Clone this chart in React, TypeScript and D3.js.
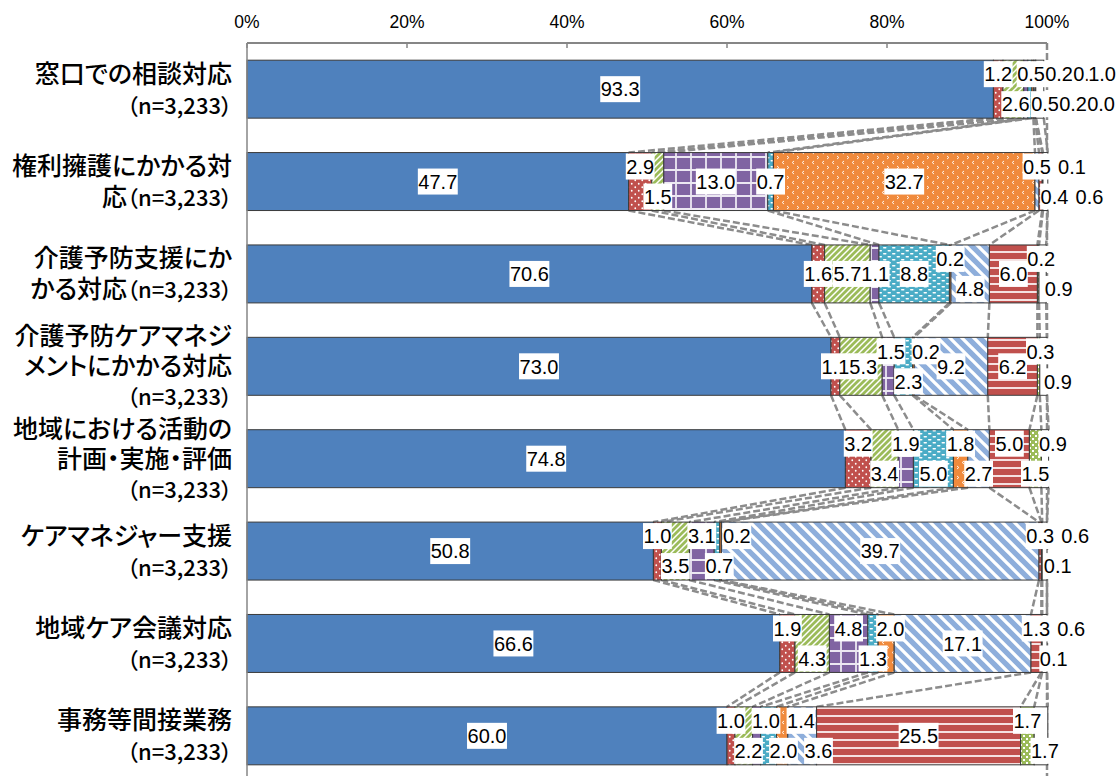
import React from 'react';
import * as d3 from 'd3';

// ---------- data ----------
const categoryLines: string[][] = [
  ['窓口での相談対応', '（n=3,233）'],
  ['権利擁護にかかる対', '応（n=3,233）'],
  ['介護予防支援にか', 'かる対応（n=3,233）'],
  ['介護予防ケアマネジ', 'メントにかかる対応', '（n=3,233）'],
  ['地域における活動の', '計画・実施・評価', '（n=3,233）'],
  ['ケアマネジャー支援', '（n=3,233）'],
  ['地域ケア会議対応', '（n=3,233）'],
  ['事務等間接業務', '（n=3,233）'],
];
const categories = categoryLines.map((l) => l.join(''));

const series1 = [93.3, 47.7, 70.6, 73.0, 74.8, 50.8, 66.6, 60.0];
const series2 = [1.2, 2.9, 1.6, 1.1, 3.2, 1.0, 1.9, 1.0];
const series3 = [2.6, 1.5, 5.7, 5.3, 3.4, 3.5, 4.3, 2.2];
const series4 = [0.5, 13.0, 1.1, 1.5, 1.9, 3.1, 4.8, 1.0];
const series5 = [0.5, 0.7, 8.8, 2.3, 5.0, 0.7, 1.3, 2.0];
const series6 = [0.2, 32.7, 0.2, 0.2, 1.8, 0.2, 2.0, 1.4];
const series7 = [0.2, 0.5, 4.8, 9.2, 2.7, 39.7, 17.1, 3.6];
const series8 = [0.1, 0.4, 6.0, 6.2, 5.0, 0.3, 1.3, 25.5];
const series9 = [0.0, 0.1, 0.2, 0.3, 1.5, 0.1, 0.1, 1.7];
const series10 = [1.0, 0.6, 0.9, 0.9, 0.9, 0.6, 0.6, 1.7];

const allSeries = [series1, series2, series3, series4, series5, series6, series7, series8, series9, series10];
const seriesKeys = allSeries.map((_, i) => `s${i + 1}`);

// label lane per segment: m = middle, t = upper, b = lower
const labelLanes = ['mtbtbtbtbt', 'mtbmmmtbtb', 'mmmmmtbmtb', 'mmmtbtmmtb', 'mtbtbtbtbt', 'mtbtbtmtbt', 'mtbtbtmtbt', 'mtbtbtbmtb'];

const tickValues = [0, 20, 40, 60, 80, 100];

// ---------- layout ----------
const W = 1117;
const H = 776;
const x = d3.scaleLinear().domain([0, 100]).range([247, 1047]);
const y = d3
  .scaleBand<string>()
  .domain(categories)
  .range([43, 782])
  .paddingInner(0.3725)
  .paddingOuter(0.186);

const rows = categories.map((c, i) => {
  const o: any = { cat: c };
  seriesKeys.forEach((k, j) => (o[k] = allSeries[j][i]));
  return o;
});
const stacked = d3.stack<any>().keys(seriesKeys)(rows);

const LBL_FONT = 20;
const textWidth = (s: string) => {
  let w = 0;
  for (const ch of s) w += ch === '.' ? 0.278 : 0.556;
  return w * LBL_FONT;
};

type Lbl = { text: string; lane: string; c: number; cy: number; w: number };

function layoutRow(ri: number): Lbl[] {
  const bw = y.bandwidth();
  const mid = (y(categories[ri]) as number) + bw / 2;
  const items = seriesKeys.map((k, si) => {
    const [a, b] = stacked[si][ri];
    const text = allSeries[si][ri].toFixed(1);
    return { text, lane: labelLanes[ri][si], seg: (x(a) + x(b)) / 2, w: textWidth(text) };
  });
  const bound = 1115;
  const D = 17.5;
  let prevC = -1e9;
  const right: Record<string, number> = { t: -1e9, b: -1e9, m: -1e9 };
  const cs = items.map((it) => {
    let c: number;
    if (it.lane === 'm') {
      c = Math.max(it.seg, right.m + it.w / 2);
      right.m = c + it.w / 2;
      right.t = Math.max(right.t, right.m);
      right.b = Math.max(right.b, right.m);
    } else {
      c = Math.max(it.seg, prevC + D, right[it.lane] + it.w / 2);
      right[it.lane] = c + it.w / 2;
    }
    prevC = c;
    return c;
  });
  const last = items.length - 1;
  items.forEach((it, i) => (cs[i] = Math.min(cs[i], (i === last ? bound + 1 : bound) - it.w / 2)));
  const tb = items.map((it, i) => i).filter((i) => items[i].lane !== 'm' && i !== last);
  for (let k = tb.length - 1; k >= 0; k--) {
    const i = tb[k];
    let lim = cs[i];
    for (let m = k + 1; m < tb.length; m++) {
      const j = tb[m];
      if (items[j].lane === items[i].lane) {
        lim = Math.min(lim, cs[j] - (items[i].w + items[j].w) / 2);
        break;
      }
    }
    if (k + 1 < tb.length) lim = Math.min(lim, cs[tb[k + 1]] - 14);
    cs[i] = lim;
  }
  return items.map((it, i) => ({
    text: it.text,
    lane: it.lane,
    w: it.w,
    c: cs[i],
    cy: it.lane === 'm' ? mid : it.lane === 't' ? mid - 15 : mid + 15,
  }));
}

const PatternDefs = () => (
  <defs>
    <pattern id="pat-0" width={8} height={8} patternUnits="userSpaceOnUse">
      <rect width={8} height={8} fill="#4F81BD" />
    </pattern>
    <pattern id="pat-1" width={7} height={7} patternUnits="userSpaceOnUse">
      <rect width={7} height={7} fill="#C0504D" />
      <circle cx={1.75} cy={1.75} r={0.9} fill="#fff" />
      <circle cx={5.25} cy={5.25} r={0.9} fill="#fff" />
    </pattern>
    <pattern id="pat-2" width={6} height={6} patternUnits="userSpaceOnUse">
      <rect width={6} height={6} fill="#9BBB59" />
      <path d="M-1,1 L1,-1 M0,6 L6,0 M5,7 L7,5" stroke="#fff" strokeWidth={1.5} />
    </pattern>
    <pattern id="pat-3" width={15} height={13} patternUnits="userSpaceOnUse">
      <rect width={15} height={13} fill="#8064A2" />
      <path d="M0,1 H15 M1,0 V13" stroke="#ECE8F2" strokeWidth={1.8} />
    </pattern>
    <pattern id="pat-4" width={9} height={6} patternUnits="userSpaceOnUse">
      <rect width={9} height={6} fill="#4BACC6" />
      <rect x={1} y={1} width={3.5} height={1.4} rx={0.7} fill="#fff" />
      <rect x={5.5} y={4} width={3.5} height={1.4} rx={0.7} fill="#fff" />
      <rect x={-3.5} y={4} width={3.5} height={1.4} rx={0.7} fill="#fff" />
    </pattern>
    <pattern id="pat-5" width={10} height={10} patternUnits="userSpaceOnUse">
      <rect width={10} height={10} fill="#F08A3C" />
      <path d="M4,1 L2.2,2.5 L4,4" stroke="#fff" strokeWidth={0.9} fill="none" />
      <path d="M7,6 L8.8,7.5 L7,9" stroke="#fff" strokeWidth={0.9} fill="none" />
    </pattern>
    <pattern id="pat-6" width={12} height={12} patternUnits="userSpaceOnUse">
      <rect width={12} height={12} fill="#8EAEDB" />
      <path d="M0,0 L12,12 M-3,9 L3,15 M9,-3 L15,3" stroke="#fff" strokeWidth={3.3} />
    </pattern>
    <pattern id="pat-7" width={8} height={8} patternUnits="userSpaceOnUse">
      <rect width={8} height={8} fill="#C0504D" />
      <rect y={3} width={8} height={2} fill="#F5E1E1" />
    </pattern>
    <pattern id="pat-8" width={6} height={6} patternUnits="userSpaceOnUse">
      <rect width={6} height={6} fill="#9BBB59" />
      <rect x={0} y={0} width={2} height={2} fill="#fff" />
      <rect x={3} y={3} width={2} height={2} fill="#fff" />
    </pattern>
    <pattern id="pat-9" width={8} height={8} patternUnits="userSpaceOnUse">
      <rect width={8} height={8} fill="#FFFFFF" />
    </pattern>
  </defs>
);

const splitRuns = (s: string) => s.split(/(（n=[\d,]+）)/).filter((p) => p.length > 0);

export default function App() {
  const bw = y.bandwidth();
  const plotTop = 43;
  const plotBottom = 782;

  const seriesLines: { x1: number; y1: number; x2: number; y2: number }[] = [];
  for (let ri = 0; ri < categories.length - 1; ri++) {
    const yb = (y(categories[ri]) as number) + bw;
    const yt = y(categories[ri + 1]) as number;
    stacked.forEach((s) => {
      seriesLines.push({ x1: x(s[ri][1]), y1: yb, x2: x(s[ri + 1][1]), y2: yt });
    });
  }

  const labels = categories.map((_, ri) => layoutRow(ri));

  return (
    <svg
      width={W}
      height={H}
      style={{ position: 'absolute', left: 0, top: 0, background: '#fff' }}
      xmlns="http://www.w3.org/2000/svg"
    >
      <PatternDefs />
      <rect width={W} height={H} fill="#fff" />

      <line x1={x(100)} x2={x(100)} y1={plotTop} y2={plotBottom} stroke="#8c8c8c" strokeWidth={2.5} strokeDasharray="7 3" />

      <g stroke="#8c8c8c" strokeWidth={2.5} strokeDasharray="7 3" fill="none">
        {seriesLines.map((l, i) => (
          <line key={i} x1={l.x1} y1={l.y1} x2={l.x2} y2={l.y2} />
        ))}
      </g>

      {stacked.map((s, si) => (
        <g key={si} fill={`url(#pat-${si})`} stroke="#3a3a3a" strokeWidth={1}>
          {s.map((d, ri) => (
            <rect
              key={ri}
              x={x(d[0])}
              y={y(categories[ri]) as number}
              width={Math.max(0, x(d[1]) - x(d[0]))}
              height={bw}
            />
          ))}
        </g>
      ))}

      <line x1={x(0)} x2={x(0)} y1={plotTop} y2={plotBottom} stroke="#868686" strokeWidth={1.5} />
      <line x1={x(0)} x2={x(100)} y1={plotTop} y2={plotTop} stroke="#868686" strokeWidth={2} />
      {tickValues.map((t) => (
        <g key={t}>
          <line x1={x(t)} x2={x(t)} y1={plotTop} y2={plotTop + 5} stroke="#868686" strokeWidth={1.5} />
          <text
            x={x(t)}
            y={28}
            textAnchor="middle"
            fontFamily="'Liberation Sans', Arial, sans-serif"
            fontSize={17.5}
            fill="#000"
          >
            {`${t}%`}
          </text>
        </g>
      ))}

      {categoryLines.map((lines, ri) => {
        const cy = (y(categories[ri]) as number) + bw / 2;
        const lh = lines.length === 3 ? 30 : 31;
        const start = cy - ((lines.length - 1) * lh) / 2;
        return (
          <text
            key={ri}
            textAnchor="end"
            fontFamily="'Noto Sans CJK JP', sans-serif"
            fontSize={25}
            fontWeight={500}
            fill="#000"
            style={{ fontFeatureSettings: '"palt"' }}
          >
            {lines.map((ln, li) => (
              <tspan key={li} x={232} y={start + li * lh} dy="0.36em">
                {splitRuns(ln).map((p, pi) => (
                  <tspan key={pi} fontSize={p.startsWith('（n=') ? 22 : 25}>
                    {p}
                  </tspan>
                ))}
              </tspan>
            ))}
          </text>
        );
      })}

      {labels.map((row, ri) => (
        <g key={ri}>
          {row.map((l, li) => (
            <g key={li}>
              <rect x={l.c - (l.w + 1) / 2} y={l.cy - 13} width={l.w + 1} height={26} fill="#fff" />
              <text
                x={l.c}
                y={l.cy}
                dy="0.36em"
                textAnchor="middle"
                fontFamily="'Liberation Sans', Arial, sans-serif"
                fontSize={LBL_FONT}
                fill="#000"
              >
                {l.text}
              </text>
            </g>
          ))}
        </g>
      ))}
    </svg>
  );
}
